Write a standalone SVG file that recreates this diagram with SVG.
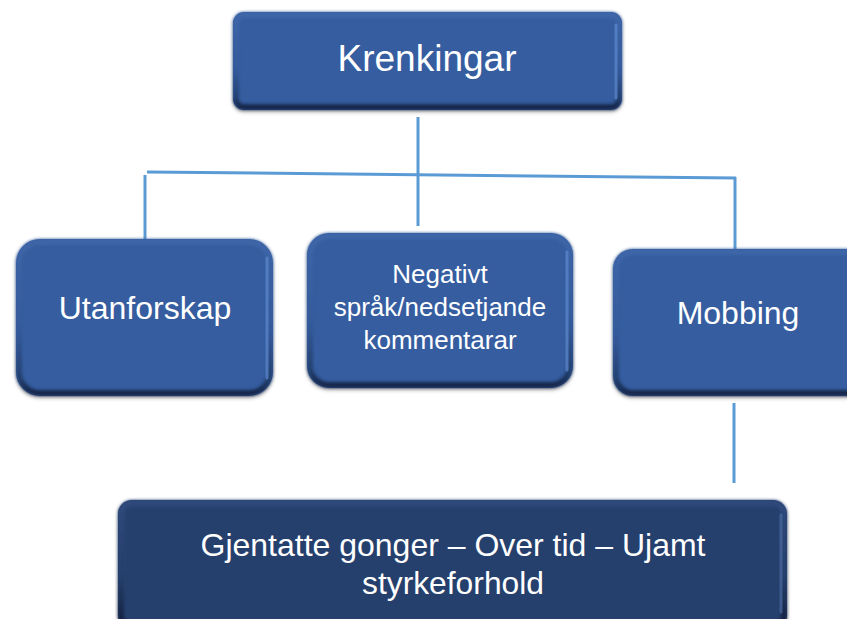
<svg xmlns="http://www.w3.org/2000/svg" width="847" height="619" viewBox="0 0 847 619">
<defs>
<linearGradient id="edge" x1="0" y1="0" x2="0" y2="1">
<stop offset="0" stop-color="#3d66a8"/>
<stop offset="0.6" stop-color="#33599a"/>
<stop offset="0.9" stop-color="#22406f"/>
<stop offset="1" stop-color="#13264a"/>
</linearGradient>
<linearGradient id="edge2" x1="0" y1="0" x2="0" y2="1">
<stop offset="0" stop-color="#2e4a7c"/>
<stop offset="0.6" stop-color="#253e6b"/>
<stop offset="1" stop-color="#101e3a"/>
</linearGradient>
<filter id="sh" x="-10%" y="-10%" width="120%" height="130%">
<feDropShadow dx="0" dy="2" stdDeviation="2" flood-color="#000" flood-opacity="0.3"/>
</filter>
<filter id="soft"><feGaussianBlur stdDeviation="1.5"/></filter>
</defs>
<style>
.box{fill:#365d9f;filter:url(#sh)}
.dbox{fill:#273f6d;filter:url(#sh)}
.bev{fill:none;stroke:url(#edge);stroke-width:6;filter:url(#soft)}
.dbev{fill:none;stroke:url(#edge2);stroke-width:6;filter:url(#soft)}
.hl{stroke:#5e8ad0;stroke-width:3;stroke-linecap:round;opacity:0.7}
.dhl{stroke:#4a6aa0;stroke-width:3;stroke-linecap:round;opacity:0.7}
.t{fill:#ffffff;font-family:"Liberation Sans",Arial,sans-serif;text-anchor:middle}
.c{stroke:#5b9bd5;stroke-width:3;fill:none}
</style>
<g id="connectors">
<line class="c" x1="418" y1="117" x2="418" y2="226"/>
<line class="c" x1="147" y1="172" x2="736" y2="178"/>
<line class="c" x1="145" y1="175" x2="145" y2="245"/>
<line class="c" x1="735" y1="177" x2="735" y2="257"/>
<line class="c" x1="734" y1="403" x2="734" y2="483"/>
</g>
<g id="krenkingar">
<rect class="box" x="233" y="12" width="389" height="98" rx="11"/>
<rect class="bev" x="236" y="15" width="383" height="92" rx="8"/>
<line class="hl" x1="616" y1="25" x2="616" y2="98"/>
<text class="t" x="427" y="71" font-size="37">Krenkingar</text>
</g>
<g id="utanforskap">
<rect class="box" x="16" y="239" width="257" height="157" rx="24"/>
<rect class="bev" x="19" y="242" width="251" height="151" rx="21"/>
<line class="hl" x1="267" y1="258" x2="267" y2="378"/>
<text class="t" x="145" y="319" font-size="32">Utanforskap</text>
</g>
<g id="negativt">
<rect class="box" x="307" y="233" width="266" height="155" rx="22"/>
<rect class="bev" x="310" y="236" width="260" height="149" rx="19"/>
<line class="hl" x1="567" y1="252" x2="567" y2="370"/>
<text class="t" font-size="26"><tspan x="440" y="283">Negativt</tspan><tspan x="440" y="316">språk/nedsetjande</tspan><tspan x="440" y="349">kommentarar</tspan></text>
</g>
<g id="mobbing">
<rect class="box" x="613" y="249" width="260" height="147" rx="20"/>
<rect class="bev" x="616" y="252" width="254" height="141" rx="17"/>
<text class="t" x="738" y="324" font-size="32">Mobbing</text>
</g>
<g id="gjentatte">
<rect class="dbox" x="118" y="500" width="669" height="130" rx="14"/>
<rect class="dbev" x="121" y="503" width="663" height="124" rx="11"/>
<line class="dhl" x1="781" y1="515" x2="781" y2="612"/>
<text class="t" font-size="32"><tspan x="453" y="556" textLength="505" lengthAdjust="spacingAndGlyphs">Gjentatte gonger – Over tid – Ujamt</tspan><tspan x="453" y="594" textLength="182" lengthAdjust="spacingAndGlyphs">styrkeforhold</tspan></text>
</g>
</svg>
